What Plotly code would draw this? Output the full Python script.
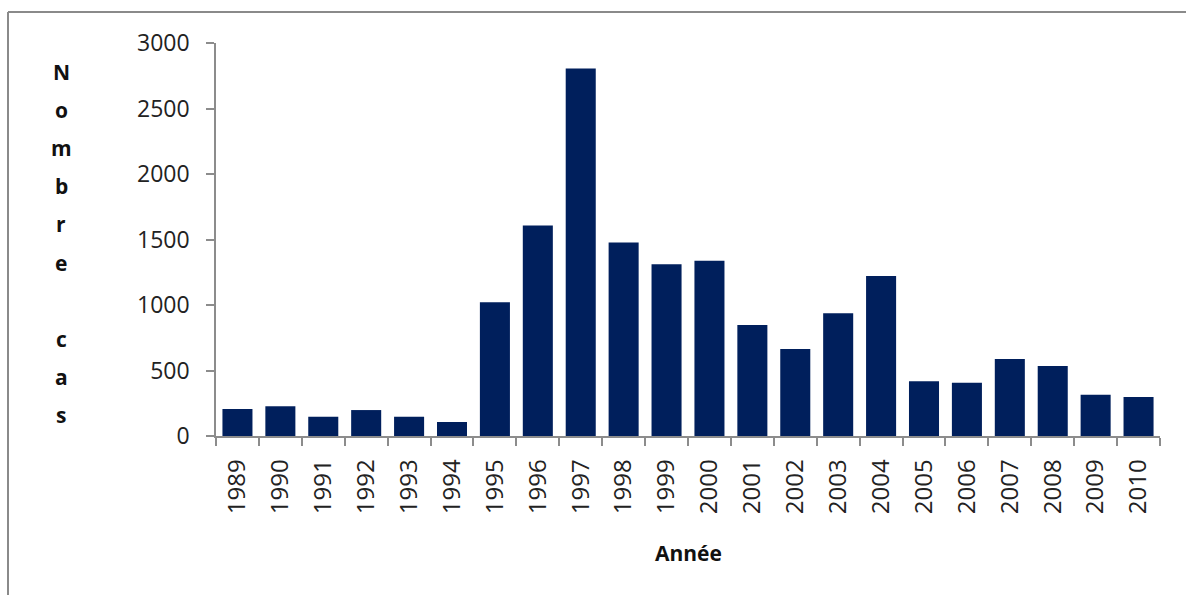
import plotly.graph_objects as go

years = [str(y) for y in range(1989, 2011)]
cases = [206, 227, 147, 198, 147, 107, 1021, 1606, 2805, 1478, 1312, 1337,
         847, 664, 937, 1222, 417, 407, 588, 534, 315, 298]
y_ticks = [0, 500, 1000, 1500, 2000, 2500, 3000]
x_title = "Année"
y_title = "Nombre cas"

W, H = 1186, 595
L, R, T, B = 216, 26, 43, 159
pw, ph = W - L - R, H - T - B

def px(x):
    return (x - L) / pw

def py(y):
    return (H - B - y) / ph

fig = go.Figure(go.Bar(x=years, y=cases, marker=dict(color="#001f5c", line=dict(width=0))))

font = "Open Sans"
fig.update_layout(
    width=W, height=H,
    margin=dict(l=L, r=R, t=T, b=B),
    paper_bgcolor="white", plot_bgcolor="white",
    bargap=0.3,
    showlegend=False,
    font=dict(family=font, color="#222"),
)
fig.update_xaxes(
    type="category",
    showline=True, linecolor="#8c8c8c", linewidth=1.5,
    ticks="outside", tickson="boundaries", ticklen=8, tickcolor="#8c8c8c", tickwidth=1.5,
    tickangle=-90, tickfont=dict(size=24, family=font, color="#222"),
    ticklabelstandoff=12,
    showgrid=False,
)
fig.update_yaxes(
    range=[0, 3000], tickvals=y_ticks,
    showline=True, linecolor="#8c8c8c", linewidth=1.5,
    ticks="outside", ticklen=8, tickcolor="#8c8c8c", tickwidth=1.5,
    tickfont=dict(size=23, family=font, color="#222"),
    ticklabelstandoff=12,
    showgrid=False, zeroline=False,
)

# x-axis title
fig.add_annotation(text=f"<b>{x_title}</b>", xref="paper", yref="paper",
                   x=px(688), y=py(553), xanchor="center", yanchor="middle",
                   showarrow=False, font=dict(size=21, family=font, color="#111"))

# vertical stacked y title (one letter per line)
y_positions = [72, 110, 148, 186, 224, 263, 301, 339, 377, 415]
for ch, yy in zip(y_title, y_positions):
    if ch.strip():
        fig.add_annotation(text=f"<b>{ch}</b>", xref="paper", yref="paper",
                           x=px(61), y=py(yy), xanchor="center", yanchor="middle",
                           showarrow=False, font=dict(size=21, family=font, color="#111"))

# outer frame (top and left edges visible)
fig.add_shape(type="line", xref="paper", yref="paper",
              x0=px(8), x1=px(1190), y0=py(12), y1=py(12),
              line=dict(color="#8a8a8a", width=2))
fig.add_shape(type="line", xref="paper", yref="paper",
              x0=px(8), x1=px(8), y0=py(12), y1=py(600),
              line=dict(color="#8a8a8a", width=2))

fig.write_html("out.html", config={"displayModeBar": False},
               post_script="document.body.style.margin='0';")
